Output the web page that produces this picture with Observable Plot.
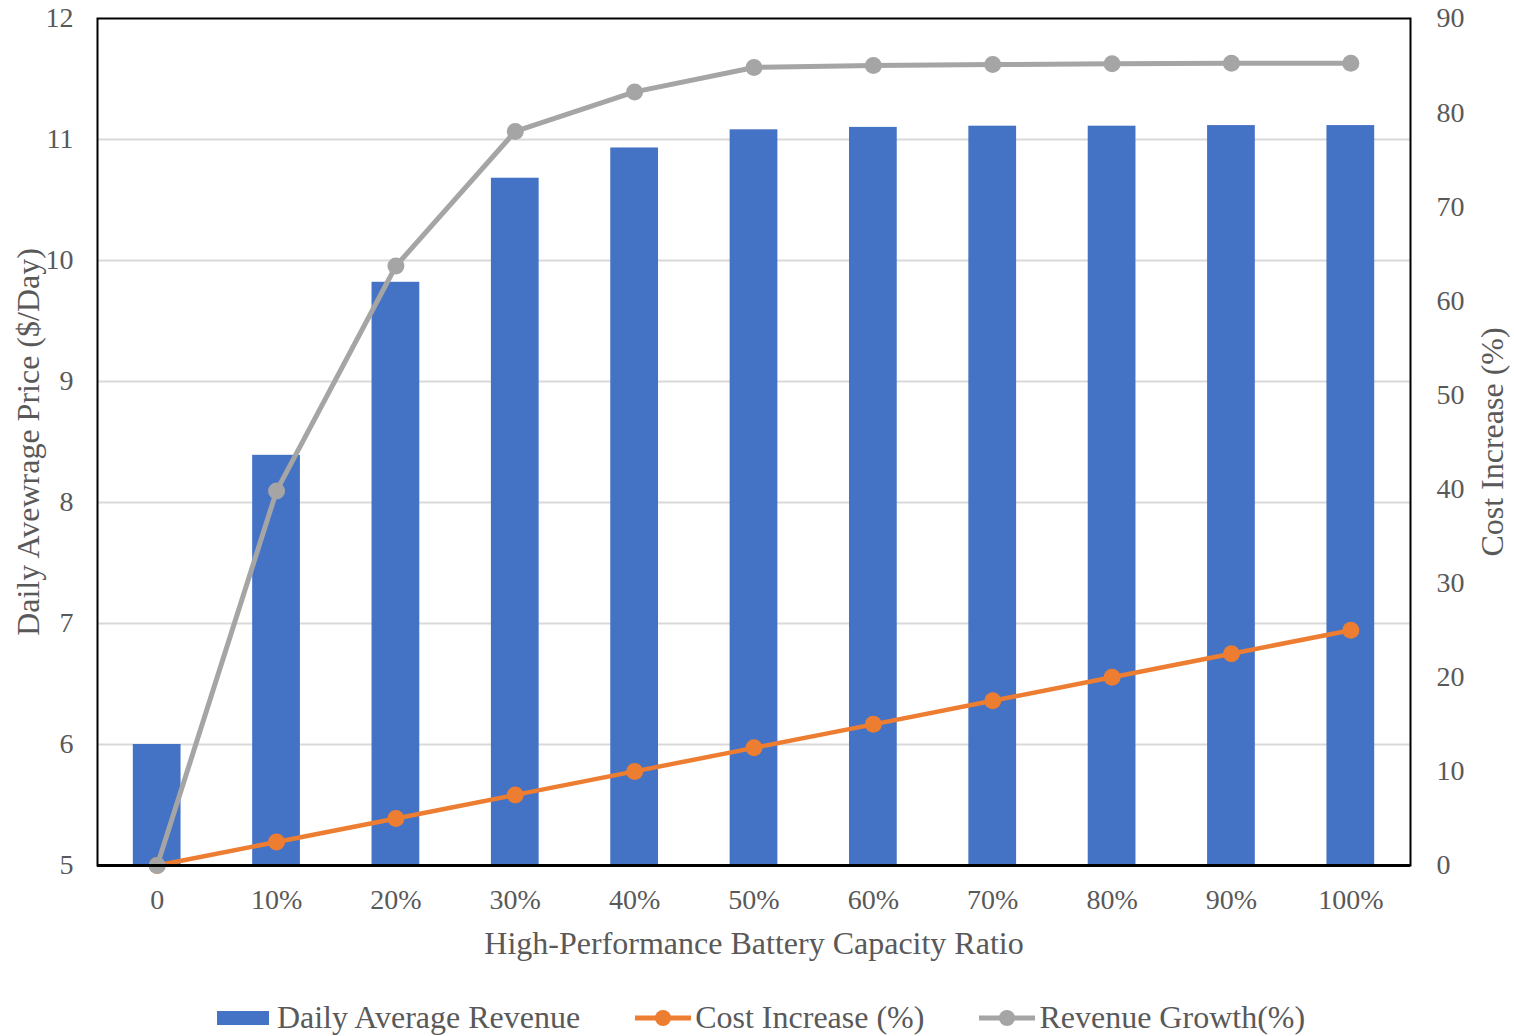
<!DOCTYPE html>
<html>
<head>
<meta charset="utf-8">
<script src="https://cdn.jsdelivr.net/npm/d3@7"></script>
<script src="https://cdn.jsdelivr.net/npm/@observablehq/plot@0.6"></script>
<style>
  html, body { margin: 0; padding: 0; background: #fff; }
  #chart { width: 1514px; height: 985px; }
  .legend { display: flex; justify-content: center; align-items: center; gap: 55px; height: 51px; margin-top: 7px;
    font-family: "Liberation Serif", "Times New Roman", serif; font-size: 32px; color: #595959; padding-left: 8px; }
  .legend .item { display: flex; align-items: center; }
  .legend svg { margin-right: 4px; }
</style>
</head>
<body>
<div id="chart"></div>
<script>
// ---- data ----
const categories = ["0", "10%", "20%", "30%", "40%", "50%", "60%", "70%", "80%", "90%", "100%"];
const dailyRevenue = [6.0, 8.39, 9.82, 10.68, 10.93, 11.08, 11.10, 11.11, 11.11, 11.115, 11.115];
const costIncrease = [0, 2.5, 5, 7.5, 10, 12.5, 15, 17.5, 20, 22.5, 25];
const revenueGrowth = [0, 39.8, 63.7, 78.0, 82.2, 84.8, 85.0, 85.1, 85.2, 85.25, 85.25];
const leftTicks = [5, 6, 7, 8, 9, 10, 11, 12];
const rightTicks = [0, 10, 20, 30, 40, 50, 60, 70, 80, 90];

const leftMin = 5, leftMax = 12, rightMax = 90;
const toLeft = v => leftMin + v * (leftMax - leftMin) / rightMax;

const rows = categories.map((c, i) => ({
  cat: c, rev: dailyRevenue[i], cost: toLeft(costIncrease[i]), growth: toLeft(revenueGrowth[i])
}));

const blue = "#4472C4", orange = "#ED7D31", gray = "#A5A5A5", text = "#595959";

const chart = Plot.plot({
  width: 1514,
  height: 985,
  marginLeft: 97,
  marginRight: 104,
  marginTop: 18,
  marginBottom: 120,
  style: { fontFamily: "Liberation Serif, Times New Roman, serif", fontSize: "28px", color: text, background: "#fff" },
  x: { domain: categories, paddingInner: 0.6, paddingOuter: 0.3, round: false },
  y: { domain: [leftMin, leftMax] },
  marks: [
    Plot.gridY(leftTicks.filter(t => t > leftMin && t < leftMax), { stroke: "#D9D9D9", strokeOpacity: 1, strokeWidth: 2 }),
    Plot.barY(rows, { x: "cat", y1: leftMin, y2: "rev", fill: blue }),
    Plot.line(rows, { x: "cat", y: "cost", stroke: orange, strokeWidth: 4.5 }),
    Plot.dot(rows, { x: "cat", y: "cost", fill: orange, r: 8.5, stroke: null }),
    Plot.line(rows, { x: "cat", y: "growth", stroke: gray, strokeWidth: 5 }),
    Plot.dot(rows, { x: "cat", y: "growth", fill: gray, r: 8.5, stroke: null }),
    Plot.frame({ stroke: "#000", strokeWidth: 2 }),
    Plot.ruleY([leftMin], { stroke: "#000", strokeWidth: 3 }),
    Plot.axisX({ tickSize: 0, tickPadding: 24, label: "High-Performance Battery Capacity Ratio",
      labelAnchor: "center", labelOffset: 88, labelArrow: "none" }),
    Plot.axisY(leftTicks, { anchor: "left", tickSize: 0, tickPadding: 24, tickFormat: d => String(d),
      label: "Daily Avewrage Price ($/Day)", labelAnchor: "center", labelOffset: 81, labelArrow: "none" }),
    Plot.axisY(rightTicks.map(toLeft), { anchor: "right", tickSize: 0, tickPadding: 26,
      tickFormat: d => String(Math.round((d - leftMin) * rightMax / (leftMax - leftMin))),
      label: "Cost Increase (%)", labelAnchor: "center", labelOffset: 92, labelArrow: "none" })
  ]
});

// enlarge axis titles only
d3.select(chart).selectAll("g[aria-label='x-axis label'], g[aria-label='y-axis label']").style("font-size", "32px");

document.getElementById("chart").appendChild(chart);

// legend
const legend = d3.select("body").append("div").attr("class", "legend");
const items = [
  { name: "Daily Average Revenue", type: "bar", color: blue },
  { name: "Cost Increase (%)", type: "line", color: orange },
  { name: "Revenue Growth(%)", type: "line", color: gray }
];
items.forEach(it => {
  const d = legend.append("div").attr("class", "item");
  const s = d.append("svg").attr("width", 56).attr("height", 20);
  if (it.type === "bar") {
    s.append("rect").attr("x", 0).attr("y", 3).attr("width", 52).attr("height", 14).attr("fill", it.color);
  } else {
    s.append("line").attr("x1", 0).attr("x2", 56).attr("y1", 10).attr("y2", 10).attr("stroke", it.color).attr("stroke-width", 5);
    s.append("circle").attr("cx", 28).attr("cy", 10).attr("r", 8).attr("fill", it.color);
  }
  d.append("span").text(it.name);
});
</script>
</body>
</html>
